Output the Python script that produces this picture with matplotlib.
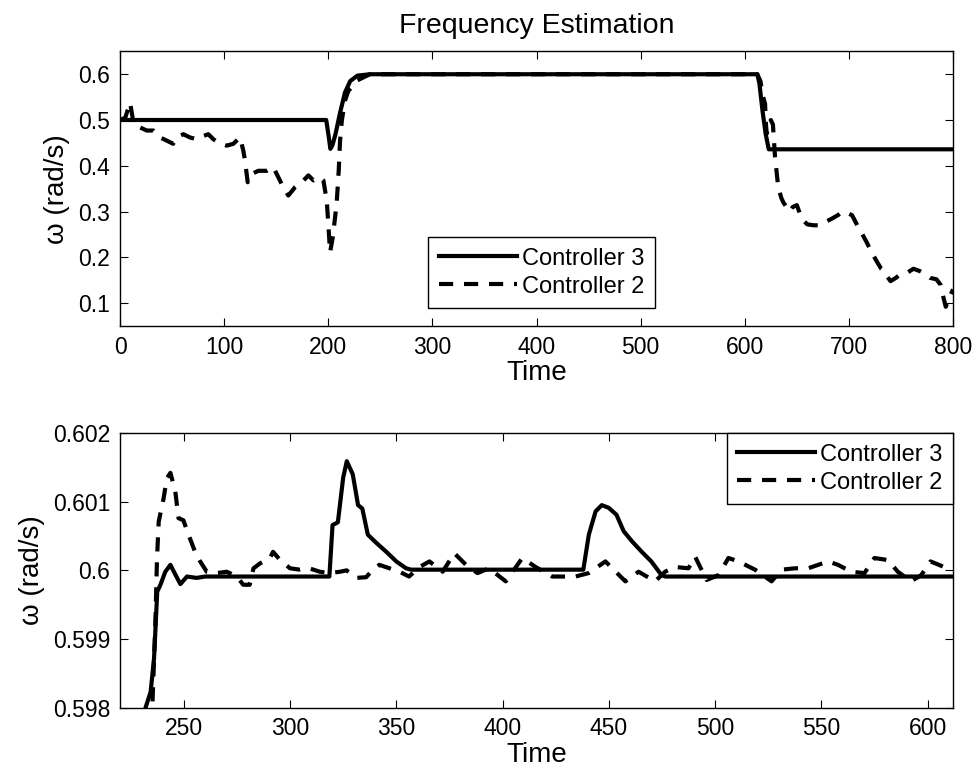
import matplotlib
matplotlib.use("Agg")
import matplotlib.pyplot as plt

# ---------------- data ----------------
top_t_c3 = [0, 198, 200, 202, 204, 207, 211, 216, 221, 228, 240, 612, 614, 617, 620, 623, 800]
top_c3 = [0.5, 0.5, 0.47, 0.437, 0.445, 0.47, 0.513, 0.56, 0.585, 0.597, 0.6, 0.6, 0.58, 0.52, 0.47, 0.436, 0.436]

top_t_c2 = [0, 5, 9.6, 12.7, 19, 25.6, 32, 38.4, 44.8, 51, 54.4, 60.8, 67, 73.6, 80, 84.8, 89.6, 96,
            102.4, 108.8, 115.2, 118.4, 120, 122.6, 126.4, 132.8, 140.9, 147.2, 152, 156.8, 161.6,
            168, 174.5, 180.9, 185.7, 192, 195.3, 198.5, 200, 201.7, 204.3, 208, 210, 211.3, 213,
            216, 219.3, 222.5, 227.3, 240,
            612, 615, 617, 619.5, 620, 621, 623, 625, 627, 629, 632, 635, 637, 640, 643, 646, 650,
            653, 656, 660, 666, 672, 678, 684, 690, 694, 698, 703, 708, 713, 717, 722, 727, 731,
            734, 737, 740, 745, 749, 755, 762, 768, 772, 778, 784, 788, 791, 793, 796, 798, 800]
top_c2 = [0.5, 0.505, 0.538, 0.497, 0.484, 0.477, 0.477, 0.462, 0.455, 0.448, 0.462, 0.469, 0.462,
          0.458, 0.465, 0.469, 0.458, 0.448, 0.444, 0.448, 0.462, 0.433, 0.411, 0.364, 0.382, 0.389,
          0.389, 0.397, 0.375, 0.353, 0.335, 0.353, 0.364, 0.379, 0.368, 0.375, 0.368, 0.324, 0.273,
          0.211, 0.244, 0.317, 0.389, 0.455, 0.499, 0.542, 0.564, 0.571, 0.586, 0.6,
          0.6, 0.585, 0.555, 0.535, 0.5, 0.47, 0.49, 0.5, 0.49, 0.42, 0.355, 0.33, 0.32, 0.31, 0.30,
          0.31, 0.314, 0.295, 0.281, 0.272, 0.27, 0.27, 0.278, 0.285, 0.293, 0.30, 0.297, 0.292,
          0.27, 0.25, 0.233, 0.21, 0.19, 0.175, 0.17, 0.157, 0.148, 0.155, 0.162, 0.165, 0.175,
          0.17, 0.165, 0.155, 0.152, 0.14, 0.11, 0.092, 0.11, 0.12, 0.13]

zoom_t_c3 = [225, 232, 234.4, 236, 237.5, 239, 241.3, 243.7, 246, 248.4, 251.5, 256, 260, 318.5,
             320, 322.5, 325, 326.7, 329.5, 332, 334, 336.6, 340.6, 345.3, 350, 354.6, 357, 438,
             440.6, 443.8, 446.7, 450, 453.6, 457, 461, 465.5, 470, 474.8, 476.7, 612]
zoom_c3 = [0.5970, 0.5980, 0.59823, 0.59872, 0.59969, 0.59979, 0.59998, 0.60008, 0.59994, 0.5998,
           0.59991, 0.59989, 0.59991, 0.59991, 0.60066, 0.6007, 0.60135, 0.60159, 0.6014, 0.60095,
           0.6009, 0.60052, 0.6004, 0.60027, 0.60013, 0.60003, 0.60001, 0.60001, 0.60052, 0.60086,
           0.60095, 0.60091, 0.60081, 0.60057, 0.60042, 0.60027, 0.60013, 0.59993, 0.59991, 0.59991]

zoom_t_c2 = [234, 236.6, 237.4, 238.2, 240.5, 242, 243.7, 246, 247.5, 249.8, 252.2, 255.3, 257.7,
             260.8, 265.5, 270.2, 274.9, 278, 281, 282.8, 285.8, 290.6, 292, 295.3, 300, 304.6, 309,
             314, 318.7, 323.5, 326.6, 331, 335.8, 339, 342, 346.8, 351.5, 356, 361, 365.6, 371.8,
             377.3, 382.8, 388.2, 393.6, 401.5, 409.3, 415.5, 423.3, 434.3, 440.5, 448.4, 457.8,
             464, 471.8, 476.5, 481, 487.5, 490.6, 496, 501.6, 506.3, 511, 518.8, 526.6, 531.3,
             537.6, 543.8, 548.5, 553.2, 557.9, 564, 570.3, 575, 581.3, 586, 592.2, 597, 601.4,
             607.7, 612]
zoom_c2 = [0.5970, 0.59921, 0.60018, 0.60071, 0.60105, 0.60134, 0.60142, 0.60115, 0.60076, 0.60073,
           0.60052, 0.60027, 0.60013, 0.59998, 0.59996, 0.59998, 0.59991, 0.59979, 0.59979, 0.60003,
           0.6001, 0.60018, 0.60027, 0.60015, 0.60003, 0.60001, 0.60003, 0.59998, 0.59996, 0.59998,
           0.6, 0.59989, 0.5999, 0.60001, 0.60008, 0.60003, 0.59998, 0.59991, 0.60005, 0.60013,
           0.59998, 0.60025, 0.60008, 0.59996, 0.60003, 0.59984, 0.60018, 0.60005, 0.59991, 0.59991,
           0.59996, 0.60013, 0.59984, 0.59998, 0.59984, 0.59998, 0.60005, 0.60003, 0.6002, 0.59986,
           0.59993, 0.60018, 0.60013, 0.60001, 0.59984, 0.60001, 0.60003, 0.60003, 0.60008, 0.60013,
           0.60008, 0.59998, 0.59996, 0.60018, 0.60015, 0.59998, 0.59984, 0.59993, 0.60013, 0.60005,
           0.60005]

labels = ["Controller 3", "Controller 2"]
top_xticks = [0, 100, 200, 300, 400, 500, 600, 700, 800]
top_yticks = [0.1, 0.2, 0.3, 0.4, 0.5, 0.6]
top_yticklabels = ["0.1", "0.2", "0.3", "0.4", "0.5", "0.6"]
zoom_xticks = [250, 300, 350, 400, 450, 500, 550, 600]
zoom_yticks = [0.598, 0.599, 0.600, 0.601, 0.602]
zoom_yticklabels = ["0.598", "0.599", "0.6", "0.601", "0.602"]

# ---------------- style ----------------
plt.rcParams['font.family'] = ['Liberation Sans', 'DejaVu Sans']
TICK_FS = 16.5
LEG_FS = 17
LABEL_FS = 20
TITLE_FS = 20.5
LW = 3
DASH = (3.4, 2.6)

fig = plt.figure(figsize=(9.76, 7.78), dpi=100)
ax1 = fig.add_axes([0.123, 0.581, 0.8535, 0.353])
ax2 = fig.add_axes([0.123, 0.0904, 0.8535, 0.353])


def style(ax):
    for s in ax.spines.values():
        s.set_linewidth(1.0)
    ax.tick_params(direction='in', top=True, right=True, length=6, width=0.8,
                   labelsize=TICK_FS, pad=7)


leg_kw = dict(fontsize=LEG_FS, frameon=True, fancybox=False, framealpha=1,
              edgecolor='black', handlelength=3.3, handletextpad=0.2,
              labelspacing=0.25, borderpad=0.45, borderaxespad=0)

ax1.plot(top_t_c3, top_c3, color='black', lw=LW, label=labels[0])
ax1.plot(top_t_c2, top_c2, color='black', lw=LW, dashes=DASH, label=labels[1])
ax1.set_xlim(0, 800)
ax1.set_ylim(0.05, 0.65)
ax1.set_xticks(top_xticks)
ax1.set_yticks(top_yticks)
ax1.set_yticklabels(top_yticklabels)
style(ax1)
ax1.set_xlabel("Time", fontsize=LABEL_FS, labelpad=1)
ax1.set_ylabel("ω (rad/s)", fontsize=LABEL_FS, labelpad=6)
ax1.set_title("Frequency Estimation", fontsize=TITLE_FS, pad=13)
leg1 = ax1.legend(loc='lower center', bbox_to_anchor=(0.506, 0.065), **leg_kw)
leg1.get_frame().set_linewidth(1.0)

ax2.plot(zoom_t_c3, zoom_c3, color='black', lw=LW, label=labels[0])
ax2.plot(zoom_t_c2, zoom_c2, color='black', lw=LW, dashes=DASH, label=labels[1])
ax2.set_xlim(220, 612)
ax2.set_ylim(0.598, 0.602)
ax2.set_xticks(zoom_xticks)
ax2.set_yticks(zoom_yticks)
ax2.set_yticklabels(zoom_yticklabels)
style(ax2)
ax2.set_xlabel("Time", fontsize=LABEL_FS, labelpad=1)
ax2.set_ylabel("ω (rad/s)", fontsize=LABEL_FS, labelpad=6)
leg2 = ax2.legend(loc='upper right', **leg_kw)
leg2.get_frame().set_linewidth(1.0)

fig.savefig("out.png", dpi=100)
